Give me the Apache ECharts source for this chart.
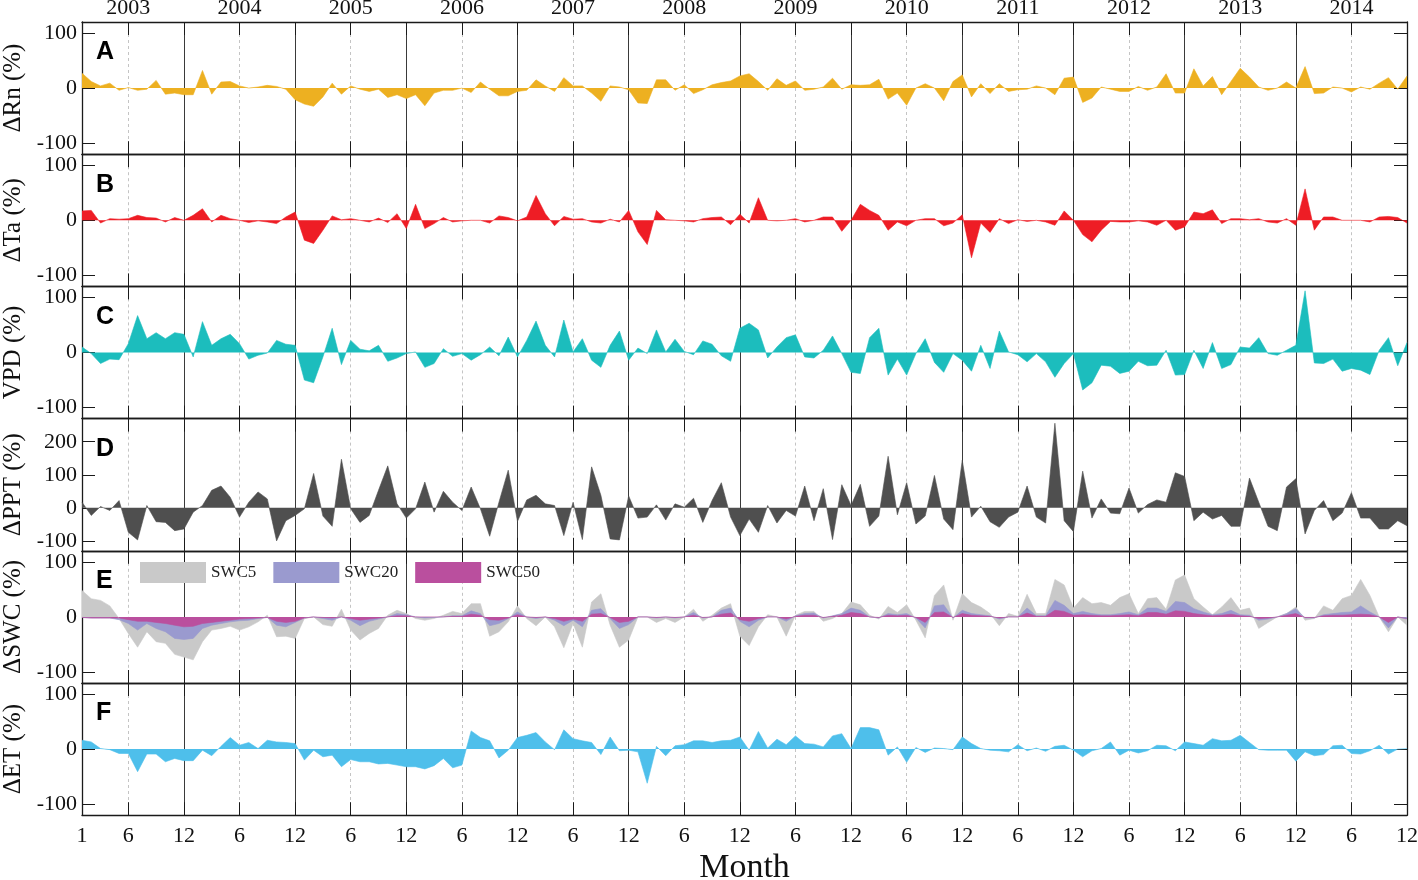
<!DOCTYPE html>
<html>
<head>
<meta charset="utf-8">
<title>Monthly anomalies 2003-2014</title>
<script src="https://cdn.jsdelivr.net/npm/echarts@6.0.0/dist/echarts.min.js"></script>
<style>
    html, body { margin: 0; padding: 0; background: #fff; }
    #chart { width: 1418px; height: 880px; }
</style>
</head>
<body>
<div id="chart"></div>
<script>
const years = [2003, 2004, 2005, 2006, 2007, 2008, 2009, 2010, 2011, 2012, 2013, 2014];
const monthsOfYear = [1, 2, 3, 4, 5, 6, 7, 8, 9, 10, 11, 12];

// monthly anomalies (%), Jan 2003 .. Dec 2014
const rn = [
    27, 12, 4, 9, -4, 1, -4, -2, 14, -11, -9, -12,
    -12, 32, -11, 11, 12, 4, 0, 2, 5, 3, -2, -21,
    -29, -33, -16, 9, -11, 4, -2, -6, -2, -17, -12, -19,
    -12, -32, -9, -4, -4, 0, -8, 11, -2, -14, -14, -6,
    -4, 15, 4, -6, 19, 4, 4, -9, -24, 4, 2, -3,
    -27, -28, 15, 15, -4, 6, -10, -3, 6, 10, 13, 22,
    26, 12, -4, 17, 5, 13, -4, -2, 2, 18, -2, 6,
    5, 6, 16, -20, -9, -31, 0, 8, 0, -23, 12, 24,
    -16, 8, -10, 8, -6, -3, -2, 4, 0, -12, 18, 20,
    -26, -18, 2, -2, -6, -6, 3, -4, 2, 26, -9, -9,
    35, 4, 21, -12, 12, 36, 20, 2, -4, 0, 11, 0,
    39, -10, -9, 2, 0, -7, 2, -2, 9, 19, -2, 22
];
const ta = [
    17, 18, -5, 3, 2, 3, 9, 5, 4, -3, 5, 0,
    9, 21, -3, 9, 3, 0, -4, -1, -3, -6, 6, 15,
    -36, -42, -18, 8, 1, 3, 0, -3, 4, -4, 12, -15,
    29, -15, -6, 5, -3, -1, 0, 0, -5, 8, 5, -1,
    6, 45, 12, -10, 7, 2, 3, -3, -5, 2, -3, 18,
    -21, -44, 18, 1, 0, -1, -3, 3, 5, 6, -8, 11,
    -5, 41, 0, -1, 0, 3, -3, 0, 6, 6, -20, 0,
    29, 18, 9, -18, -3, -10, 0, 3, 3, -10, -5, 10,
    -68, -5, -22, 3, -6, 1, -2, 0, -3, -9, 17, 0,
    -26, -39, -18, -2, -3, -3, -1, -3, -9, 0, -18, -12,
    15, 12, 19, -6, 3, 3, 1, 3, -3, -5, 3, -9,
    57, -18, 6, 6, 0, 0, 0, -3, 6, 7, 5, -5
];
const vpd = [
    10, -2, -20, -12, -13, 16, 67, 25, 36, 25, 36, 33,
    -8, 56, 13, 25, 33, 16, -12, -5, -1, 22, 15, 13,
    -50, -55, -8, 44, -22, 22, 6, 3, 13, -16, -10, -2,
    1, -27, -20, 7, -7, -2, -14, -4, 10, -6, 28, -8,
    22, 57, 13, -8, 59, 1, 25, -14, -27, 13, 39, -14,
    8, -2, 41, 1, 24, 2, -4, 21, 15, -6, -16, 44,
    53, 41, -10, 10, 27, 32, -8, -10, 4, 30, -2, -36,
    -38, 27, 44, -41, -12, -41, -2, 25, -18, -36, -2, -14,
    -34, 13, -29, 39, 1, -4, -17, -2, -17, -45, -20, -2,
    -68, -55, -23, -25, -38, -34, -16, -24, -23, 4, -41, -40,
    4, -29, 18, -29, -22, 10, 8, 27, -2, -5, 4, 13,
    112, -19, -20, -12, -34, -29, -32, -40, 4, 27, -24, 18
];
const ppt = [
    17, -23, 4, -8, 22, -74, -97, 7, -42, -44, -69, -64,
    -13, 7, 53, 66, 32, -28, 17, 48, 27, -100, -39, -23,
    -3, 104, -25, -56, 147, -3, -44, -23, 53, 127, 12, -31,
    -3, 78, -13, 50, 17, -8, 63, -3, -86, 17, 114, -41,
    24, 38, 12, 7, -84, 17, -96, 124, 38, -94, -97, 36,
    -31, -28, 9, -37, 12, 2, 29, -44, 22, 76, -28, -84,
    -34, -74, 7, -46, -8, -25, 66, -39, 58, -96, 70, 7,
    71, -56, -25, 156, -21, 76, -49, -25, 98, -34, -66, 144,
    -28, 5, -42, -59, -28, -13, 66, -28, -46, 256, -39, -72,
    111, -31, 27, -16, -18, 60, -16, 10, 24, 17, 106, 95,
    -39, -13, -34, -23, -56, -56, 90, 17, -56, -69, 63, 88,
    -79, -8, 22, -39, -16, 46, -31, -31, -64, -64, -39, -54
];
const swc5 = [
    48, 33, 30, 20, -3, -30, -55, -27, -45, -48, -68, -73,
    -78, -45, -24, -21, -17, -24, -18, -9, 3, -36, -35, -39,
    -3, 0, -14, -17, 14, -24, -42, -30, -21, 3, 12, 6,
    -3, -6, -3, 3, 10, 6, 24, 24, -35, -27, -9, 20,
    -3, -16, 0, -18, -56, -12, -55, 27, 42, -15, -55, -42,
    0, 0, -10, -3, -10, 0, 14, -8, 3, 16, 24, -35,
    -52, -18, 4, 0, -35, 3, 10, 10, -8, -3, 6, 27,
    22, 3, -4, 19, 8, 22, -6, -38, 39, 58, -6, 42,
    26, 18, 6, -16, 6, 1, 41, 6, 6, 68, 58, 16,
    35, 24, 26, 21, 35, 42, 6, 33, 35, 14, 67, 76,
    33, 18, 4, 18, 35, 12, 16, -21, -10, 0, 6, 18,
    -6, -3, 20, 12, 33, 39, 68, 39, 0, -27, 0, -15
];
const swc20 = [
    -1, -2, -2, -2, -5, -12, -24, -12, -21, -27, -39, -41,
    -39, -21, -15, -12, -9, -7, -6, -3, -1, -15, -18, -10,
    -2, 0, -3, -6, 0, -6, -16, -8, -4, 0, 6, 4,
    0, -2, -1, 0, 2, 2, 11, 6, -16, -12, -3, 9,
    0, -3, 0, -6, -16, -6, -18, 12, 15, -3, -21, -14,
    0, 0, -2, 0, -2, 0, 8, -2, 0, 12, 16, -8,
    -18, -6, 0, 0, -8, 2, 6, 7, -2, 2, 6, 16,
    12, 0, -2, 6, 4, 6, -2, -20, 20, 22, -2, 12,
    6, 4, 2, -4, 0, 0, 16, 2, 2, 30, 21, 6,
    10, 6, 4, 4, 6, 9, 4, 16, 16, 10, 28, 26,
    15, 9, 4, 6, 12, 4, 3, -6, -4, 0, 6, 15,
    -2, -2, 4, 6, 8, 9, 20, 9, 0, -20, 0, -4
];
const swc50 = [
    -1, -2, -2, -2, -2, -5, -8, -8, -10, -12, -15, -18,
    -17, -12, -10, -8, -6, -4, -3, -2, -1, -8, -10, -8,
    -2, 0, -1, -2, 0, -3, -6, -4, -2, 0, 2, 2,
    0, 0, 0, 0, 1, 1, 5, 3, -5, -6, -2, 4,
    0, -1, 0, -3, -8, -4, -8, 5, 6, -1, -10, -8,
    0, 0, -1, 0, -1, 0, 3, -1, 0, 5, 7, -5,
    -8, -3, 0, 0, -4, 1, 3, 3, -1, 1, 3, 8,
    6, 0, -1, 3, 2, 3, -1, -10, 8, 9, -1, 6,
    3, 2, 1, -2, 0, 0, 7, 1, 1, 12, 10, 3,
    4, 3, 2, 2, 3, 4, 2, 8, 8, 5, 11, 10,
    6, 4, 2, 3, 5, 2, 1, -3, -2, 0, 3, 6,
    -1, -1, 2, 3, 3, 4, 5, 4, 0, -10, 0, -3
];
const et = [
    16, 13, 1, -1, -8, -8, -41, -9, -9, -23, -17, -21,
    -21, -2, -12, 5, 21, 7, 12, 1, 16, 13, 12, 10,
    -20, -2, -14, -11, -32, -19, -23, -23, -27, -26, -29, -32,
    -32, -36, -30, -17, -34, -29, 33, 21, 15, -16, -2, 21,
    25, 30, 13, -1, 35, 19, 15, 12, -10, 22, -3, -2,
    -5, -62, 5, -12, 6, 8, 15, 15, 12, 15, 16, 22,
    -2, 32, 2, 18, 8, 24, 10, 9, 4, 24, 28, 1,
    39, 39, 35, -11, 4, -24, 3, -6, 2, 1, -1, 22,
    10, 1, -2, -3, -5, 8, -3, 2, -4, 5, 7, -2,
    -14, -3, 1, 13, -11, -2, -7, -3, 7, 6, -3, 13,
    10, 7, 19, 15, 16, 25, 12, -1, -2, -2, -2, -22,
    -5, -12, -10, 6, 7, -8, -9, -3, 7, -9, 0, 1
];

const panelLetters = ['A', 'B', 'C', 'D', 'E', 'F'];
const panelNames = ['\u0394Rn (%)', '\u0394Ta (%)', 'VPD (%)', '\u0394PPT (%)', '\u0394SWC (%)', '\u0394ET (%)'];
const yTickValues = [[-100, 0, 100], [-100, 0, 100], [-100, 0, 100], [-100, 0, 100, 200], [-100, 0, 100], [-100, 0, 100]];
const swcNames = ['SWC5', 'SWC20', 'SWC50'];

let categories = [];
years.forEach(function (y) {
    monthsOfYear.forEach(function (m) {
        categories.push(y + '-' + m);
    });
});

let serif = '"Liberation Serif", "Times New Roman", serif';
let sans = '"Liberation Sans", Arial, sans-serif';
let frame = '#1a1a1a';

let panels = [
    [{ name: 'Rn', data: rn, color: '#EDB021' }],
    [{ name: 'Ta', data: ta, color: '#EE1D25' }],
    [{ name: 'VPD', data: vpd, color: '#1CBDBD' }],
    [{ name: 'PPT', data: ppt, color: '#4F4F4F' }],
    [
        { name: swcNames[0], data: swc5, color: '#C9C9C9' },
        { name: swcNames[1], data: swc20, color: '#9A9ACF' },
        { name: swcNames[2], data: swc50, color: '#BA4F9E' }
    ],
    [{ name: 'ET', data: et, color: '#4EBFEB' }]
];

let top0 = 22;
let panelH = 132.2;
let last = panels.length - 1;

let grids = [], xAxes = [], yAxes = [], series = [], titles = [];

panels.forEach(function (list, i) {
    let ymin = i === 3 ? -130 : -120;
    let ymax = i === 3 ? 270 : 120;
    grids.push({ left: 82, right: 11, top: top0 + i * panelH, height: panelH, containLabel: false, outerBoundsMode: 'none' });

    let tickStyle = { inside: true, length: 13, lineStyle: { color: frame, width: 1 } };

    // bottom axis: month ticks, solid year separators
    xAxes.push({
        type: 'category',
        gridIndex: i,
        data: categories,
        boundaryGap: false,
        position: 'bottom',
        axisLine: { onZero: false, lineStyle: { color: frame, width: 1.3 } },
        axisTick: Object.assign({
            interval: function (idx) { return idx % 12 === 5 || idx % 12 === 11; }
        }, tickStyle),
        axisLabel: {
            show: i === last,
            interval: function (idx) { return idx === 0 || idx % 12 === 5 || idx % 12 === 11; },
            formatter: function (v) { return v.split('-')[1]; },
            fontFamily: serif,
            fontSize: 22,
            color: '#111',
            margin: 10
        },
        splitLine: {
            show: true,
            interval: function (idx) { return idx % 12 === 11 && idx < categories.length - 1; },
            lineStyle: { color: '#3a3a3a', width: 1 }
        },
        name: i === last ? 'Month' : '',
        nameLocation: 'middle',
        nameGap: 36,
        nameTextStyle: { fontFamily: serif, fontSize: 34, color: '#111' }
    });

    // top axis: ticks, dashed mid-year lines, year labels on the first panel
    xAxes.push({
        type: 'category',
        gridIndex: i,
        data: categories,
        boundaryGap: false,
        position: 'top',
        axisLine: { onZero: false, lineStyle: { color: frame, width: 1.3 } },
        axisTick: Object.assign({
            interval: function (idx) { return idx % 12 === 5 || idx % 12 === 11; }
        }, tickStyle),
        axisLabel: {
            show: i === 0,
            interval: function (idx) { return idx % 12 === 5; },
            formatter: function (v) { return v.split('-')[0]; },
            fontFamily: serif,
            fontSize: 22,
            color: '#111',
            margin: 3
        },
        splitLine: {
            show: true,
            interval: function (idx) { return idx % 12 === 5; },
            lineStyle: { color: '#c4c4c4', width: 1, type: [3, 3] }
        }
    });

    yAxes.push({
        type: 'value',
        gridIndex: i,
        min: ymin,
        max: ymax,
        position: 'left',
        axisLine: { show: true, lineStyle: { color: frame, width: 1.3 } },
        axisTick: Object.assign({ show: true, customValues: yTickValues[i] }, tickStyle),
        axisLabel: {
            customValues: yTickValues[i],
            fontFamily: serif,
            fontSize: 22,
            color: '#111',
            margin: 5
        },
        splitLine: { show: false },
        name: panelNames[i],
        nameLocation: 'middle',
        nameRotate: 90,
        nameGap: 55,
        nameTextStyle: { fontFamily: serif, fontSize: 25, color: '#111' }
    });
    yAxes.push({
        type: 'value',
        gridIndex: i,
        min: ymin,
        max: ymax,
        position: 'right',
        axisLine: { show: true, lineStyle: { color: frame, width: 1.3 } },
        axisTick: Object.assign({ show: true, customValues: yTickValues[i] }, tickStyle),
        axisLabel: { show: false },
        splitLine: { show: false }
    });

    list.forEach(function (s) {
        series.push({
            name: s.name,
            type: 'line',
            xAxisIndex: 2 * i,
            yAxisIndex: 2 * i,
            data: s.data,
            symbol: 'none',
            silent: true,
            lineStyle: { width: 0.6, color: s.color },
            itemStyle: { color: s.color },
            areaStyle: { color: s.color, opacity: 1 }
        });
    });

    titles.push({
        text: panelLetters[i],
        left: 96,
        top: top0 + i * panelH + 18,
        padding: 0,
        textStyle: { fontFamily: sans, fontWeight: 'bold', fontSize: 25, color: '#000' }
    });
});

let myChart = echarts.init(document.getElementById('chart'));
let options = {
    animation: false,
    backgroundColor: '#fff',
    title: titles,
    legend: {
        data: swcNames,
        left: 140,
        top: 562,
        padding: 0,
        icon: 'rect',
        itemWidth: 66,
        itemHeight: 21,
        itemGap: 17,
        textStyle: { fontFamily: serif, fontSize: 17, color: '#222' }
    },
    grid: grids,
    xAxis: xAxes,
    yAxis: yAxes,
    series: series
};
myChart.setOption(options);
</script>
</body>
</html>
